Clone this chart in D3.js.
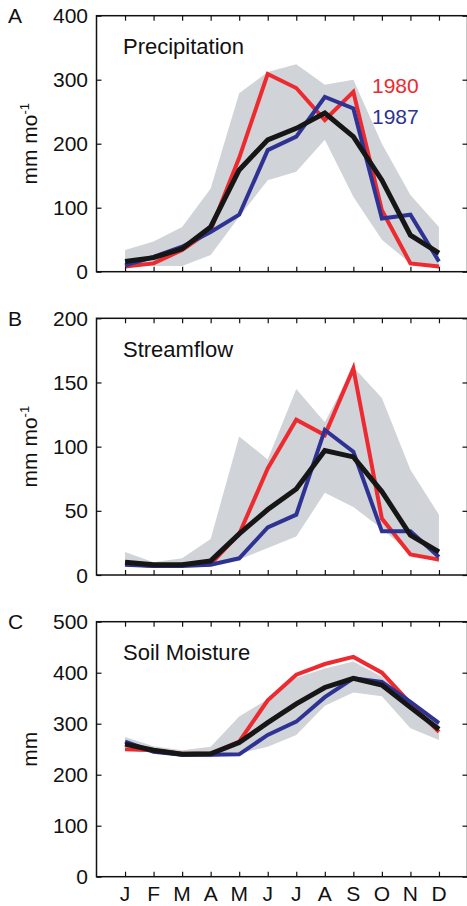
<!DOCTYPE html>
<html>
<head>
<meta charset="utf-8">
<script src="https://cdn.jsdelivr.net/npm/d3@7"></script>
<style>
  body { margin: 0; background: #fff; }
  svg text { font-family: Helvetica, Arial, "Liberation Sans", sans-serif; fill: #111; }
</style>
</head>
<body>
<div id="chart"></div>
<script>
// month labels along the bottom
var months = ['J', 'F', 'M', 'A', 'M', 'J', 'J', 'A', 'S', 'O', 'N', 'D'];

// A - precipitation (mm mo-1)
var precip1980 = [8, 13, 34, 65, 178, 309, 287, 237, 281, 96, 13, 8];
var precip1987 = [10, 23, 39, 62, 89, 190, 211, 273, 255, 83, 89, 16];
var precipMean = [16, 22, 36, 70, 159, 206, 224, 248, 211, 143, 57, 29];
var precipLow  = [10, 9, 9, 26, 86, 143, 156, 206, 117, 50, 13, 5];
var precipHigh = [34, 47, 70, 130, 279, 312, 324, 292, 300, 200, 120, 70];

// B - streamflow (mm mo-1)
var flow1980 = [9, 7, 8, 8.6, 32, 83, 121, 109, 161, 44, 16, 12];
var flow1987 = [8, 7, 7, 8, 13, 37, 47, 113, 96, 34, 34, 14];
var flowMean = [10, 8, 8, 11, 32, 51, 67, 97, 92, 65, 31, 18];
var flowLow  = [6.5, 6, 6.5, 6.5, 12, 21, 30, 64, 53, 36, 17, 10];
var flowHigh = [18, 10, 13, 28, 108, 90, 145, 119, 162, 138, 82, 47];

// C - soil moisture (mm)
var soil1980 = [250, 248, 241, 241, 265, 346, 396, 417, 431, 400, 340, 284];
var soil1987 = [265, 245, 239, 239, 240, 278, 304, 352, 389, 382, 343, 301];
var soilMean = [260, 248, 240, 241, 263, 302, 339, 371, 389, 376, 332, 289];
var soilLow  = [255, 242, 235, 234, 241, 255, 278, 335, 361, 354, 291, 268];
var soilHigh = [274, 256, 248, 255, 314, 348, 390, 408, 422, 392, 343, 307];

var width = 467, height = 906;
var margin = { left: 96.5, right: 467.5 };

var svg = d3.select('#chart').append('svg')
  .attr('width', width)
  .attr('height', height);

// months sit at 1..12, frame runs 0..13
var x = d3.scaleLinear().domain([0, 13]).range([margin.left, margin.right]);

var panels = [
  { letter: 'A', title: 'Precipitation', top: 15.7, bottom: 271.7, max: 400, step: 100,
    unit: 'mo', red: precip1980, blue: precip1987, mean: precipMean, low: precipLow, high: precipHigh,
    legend: true, months: false },
  { letter: 'B', title: 'Streamflow', top: 318.3, bottom: 575, max: 200, step: 50,
    unit: 'mo', red: flow1980, blue: flow1987, mean: flowMean, low: flowLow, high: flowHigh,
    legend: false, months: false },
  { letter: 'C', title: 'Soil Moisture', top: 621.7, bottom: 876.7, max: 500, step: 100,
    unit: 'mm', red: soil1980, blue: soil1987, mean: soilMean, low: soilLow, high: soilHigh,
    legend: false, months: true }
];

panels.forEach(function(p) {
  var y = d3.scaleLinear().domain([0, p.max]).range([p.bottom, p.top]);
  var g = svg.append('g');
  var idx = d3.range(12);

  // grey range band
  g.append('path')
    .datum(idx)
    .attr('fill', '#d0d3d7')
    .attr('d', d3.area()
      .x(function(i) { return x(i + 1); })
      .y0(function(i) { return y(p.low[i]); })
      .y1(function(i) { return y(p.high[i]); }));

  var line = function(vals) {
    return d3.line()
      .x(function(i) { return x(i + 1); })
      .y(function(i) { return y(vals[i]); })(idx);
  };

  g.append('path').attr('d', line(p.red))
    .attr('fill', 'none').attr('stroke', '#ec2a2f').attr('stroke-width', 4);
  g.append('path').attr('d', line(p.blue))
    .attr('fill', 'none').attr('stroke', '#2e3393').attr('stroke-width', 4);
  g.append('path').attr('d', line(p.mean))
    .attr('fill', 'none').attr('stroke', '#161616').attr('stroke-width', 5);

  // frame with inward ticks on all sides
  var ticks = d3.range(0, p.max + 1, p.step);
  g.append('g')
    .attr('transform', 'translate(' + margin.left + ',0)')
    .call(d3.axisRight(y).tickValues(ticks).tickSize(5).tickFormat(''))
    .call(function(a) { a.select('.domain').remove(); });
  g.append('g')
    .attr('transform', 'translate(' + margin.right + ',0)')
    .call(d3.axisLeft(y).tickValues(ticks).tickSize(5).tickFormat(''))
    .call(function(a) { a.select('.domain').remove(); });
  g.append('g')
    .attr('transform', 'translate(0,' + p.bottom + ')')
    .call(d3.axisTop(x).tickValues(d3.range(1, 13)).tickSize(5).tickFormat(''))
    .call(function(a) { a.select('.domain').remove(); });
  g.append('g')
    .attr('transform', 'translate(0,' + p.top + ')')
    .call(d3.axisBottom(x).tickValues(d3.range(1, 13)).tickSize(5).tickFormat(''))
    .call(function(a) { a.select('.domain').remove(); });
  g.selectAll('.tick line').attr('stroke', '#111').attr('stroke-width', 1.2);

  g.append('rect')
    .attr('x', margin.left).attr('y', p.top)
    .attr('width', margin.right - margin.left).attr('height', p.bottom - p.top)
    .attr('fill', 'none').attr('stroke', '#111').attr('stroke-width', 1.5);

  // y tick labels
  g.selectAll('.ylab').data(ticks).join('text')
    .attr('x', 88).attr('y', function(d) { return y(d) + 7.5; })
    .attr('text-anchor', 'end').attr('font-size', 21)
    .text(function(d) { return d; });

  g.append('text').attr('x', 8).attr('y', p.top + 7.5)
    .attr('font-size', 21).text(p.letter);

  g.append('text').attr('x', 123).attr('y', p.top + 38.5)
    .attr('font-size', 22).text(p.title);

  // rotated unit label
  var ul = g.append('text')
    .attr('transform', 'translate(37,' + ((p.top + p.bottom) / 2) + ') rotate(-90)')
    .attr('text-anchor', 'middle').attr('font-size', 21);
  if (p.unit === 'mo') {
    ul.append('tspan').text('mm mo');
    ul.append('tspan').attr('font-size', 13).attr('dy', -8).text('-1');
  } else {
    ul.text('mm');
  }

  if (p.legend) {
    g.append('text').attr('x', 372).attr('y', 92.5).attr('font-size', 21)
      .style('fill', '#ec2a2f').text('1980');
    g.append('text').attr('x', 372).attr('y', 123.5).attr('font-size', 21)
      .style('fill', '#2e3393').text('1987');
  }

  if (p.months) {
    g.selectAll('.mlab').data(months).join('text')
      .attr('x', function(d, i) { return x(i + 1); })
      .attr('y', 901)
      .attr('text-anchor', 'middle').attr('font-size', 21)
      .text(function(d) { return d; });
  }
});
</script>
</body>
</html>
